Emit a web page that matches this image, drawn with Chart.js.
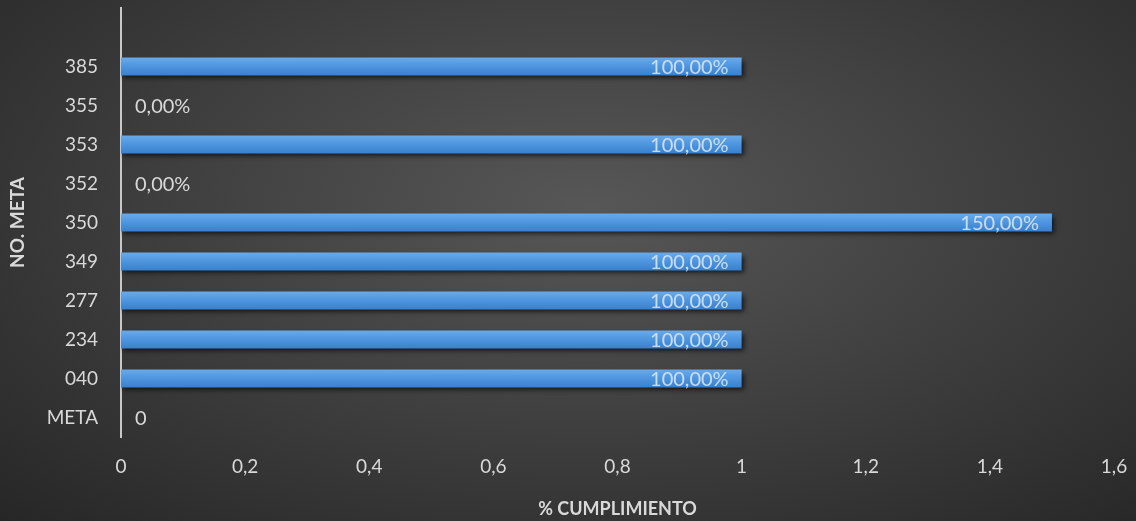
<!DOCTYPE html>
<html>
<head>
<meta charset="utf-8">
<script src="https://cdn.jsdelivr.net/npm/chart.js@4.4.0/dist/chart.umd.min.js"></script>
<style>
    html, body { margin: 0; padding: 0; }
    #wrap {
        width: 1136px; height: 521px; position: relative;
        background: radial-gradient(ellipse 75% 85% at 52% 40%, #575757 0%, #414141 45%, #262626 100%);
    }
</style>
</head>
<body>
<div id="wrap"><canvas id="bar-chart" width="1136" height="521"></canvas></div>
<script>
'use strict';

// top row is left blank, like in the original sheet
var categories = ['', '385', '355', '353', '352', '350', '349', '277', '234', '040', 'META'];
var cumplimiento = [null, 1, 0, 1, 0, 1.5, 1, 1, 1, 1, 0];
var valueLabels = ['', '100,00%', '0,00%', '100,00%', '0,00%', '150,00%', '100,00%', '100,00%', '100,00%', '100,00%', '0'];
var xTicks = [0, 0.2, 0.4, 0.6, 0.8, 1, 1.2, 1.4, 1.6];

var fontName = "Lato, 'Open Sans', sans-serif";

function barFill(ctx) {
    var chart = ctx.chart;
    var y = chart.scales.y;
    if (!chart.chartArea || !y || ctx.dataIndex === undefined) {
        return '#4a90dc';
    }
    var mid = y.getPixelForValue(ctx.dataIndex);
    var g = chart.ctx.createLinearGradient(0, mid - 9, 0, mid + 9);
    g.addColorStop(0, '#6aaaea');
    g.addColorStop(0.5, '#4d95df');
    g.addColorStop(1, '#3a80cc');
    return g;
}

var barShadow = {
    id: 'barShadow',
    beforeDatasetsDraw: function(chart) {
        var c = chart.ctx;
        c.save();
        c.shadowColor = 'rgba(0,0,0,0.7)';
        c.shadowBlur = 5;
        c.shadowOffsetX = 2;
        c.shadowOffsetY = 3;
    },
    afterDatasetsDraw: function(chart) {
        chart.ctx.restore();
    }
};

var valueText = {
    id: 'valueText',
    afterDatasetsDraw: function(chart) {
        var c = chart.ctx;
        var meta = chart.getDatasetMeta(0);
        var x0 = chart.scales.x.getPixelForValue(0);
        c.save();
        c.font = '20px ' + fontName;
        c.textBaseline = 'middle';
        meta.data.forEach(function(bar, i) {
            var v = cumplimiento[i];
            if (v === null) return;
            if (v > 0) {
                c.fillStyle = 'rgba(215,228,245,0.9)';
                c.textAlign = 'right';
                c.fillText(valueLabels[i], bar.x - 13, bar.y + 1);
            } else {
                c.fillStyle = '#d9d9d9';
                c.textAlign = 'left';
                c.fillText(valueLabels[i], x0 + 14, bar.y + 1);
            }
        });
        c.restore();
    }
};

new Chart(document.getElementById('bar-chart'), {
    type: 'bar',
    data: {
        labels: categories,
        datasets: [{
            label: '% CUMPLIMIENTO',
            data: cumplimiento,
            backgroundColor: barFill,
            borderWidth: 0,
            categoryPercentage: 1,
            barPercentage: 0.46
        }]
    },
    options: {
        indexAxis: 'y',
        responsive: false,
        animation: false,
        layout: {
            padding: { top: 8, right: 22, left: 0, bottom: 0 }
        },
        plugins: {
            legend: { display: false },
            tooltip: { enabled: false }
        },
        scales: {
            x: {
                min: 0,
                max: 1.6,
                afterBuildTicks: function(axis) {
                    axis.ticks = xTicks.map(function(v) { return { value: v }; });
                },
                afterFit: function(axis) {
                    axis.height = 84;
                    axis.paddingLeft = 0;
                    axis.paddingRight = 0;
                },
                grid: { display: false },
                border: { display: false },
                ticks: {
                    color: '#d9d9d9',
                    padding: 10,
                    font: { family: fontName, size: 19 },
                    callback: function(v) {
                        return String(Math.round(v * 10) / 10).replace('.', ',');
                    }
                },
                title: {
                    display: true,
                    text: '% CUMPLIMIENTO',
                    color: '#d9d9d9',
                    padding: { top: 4, bottom: 1 },
                    font: { family: fontName, size: 18, weight: 'bold' }
                }
            },
            y: {
                grid: { display: false, drawTicks: false },
                border: { display: true, color: '#c8c8c8', width: 2 },
                afterFit: function(axis) {
                    axis.width = 121;
                    axis.paddingTop = 0;
                    axis.paddingBottom = 0;
                },
                ticks: {
                    color: '#d9d9d9',
                    padding: 23,
                    font: { family: fontName, size: 19 }
                },
                title: {
                    display: true,
                    text: 'NO. META',
                    color: '#d9d9d9',
                    padding: { top: 6, bottom: 0 },
                    font: { family: fontName, size: 19, weight: 'bold' }
                }
            }
        }
    },
    plugins: [barShadow, valueText]
});
</script>
</body>
</html>
